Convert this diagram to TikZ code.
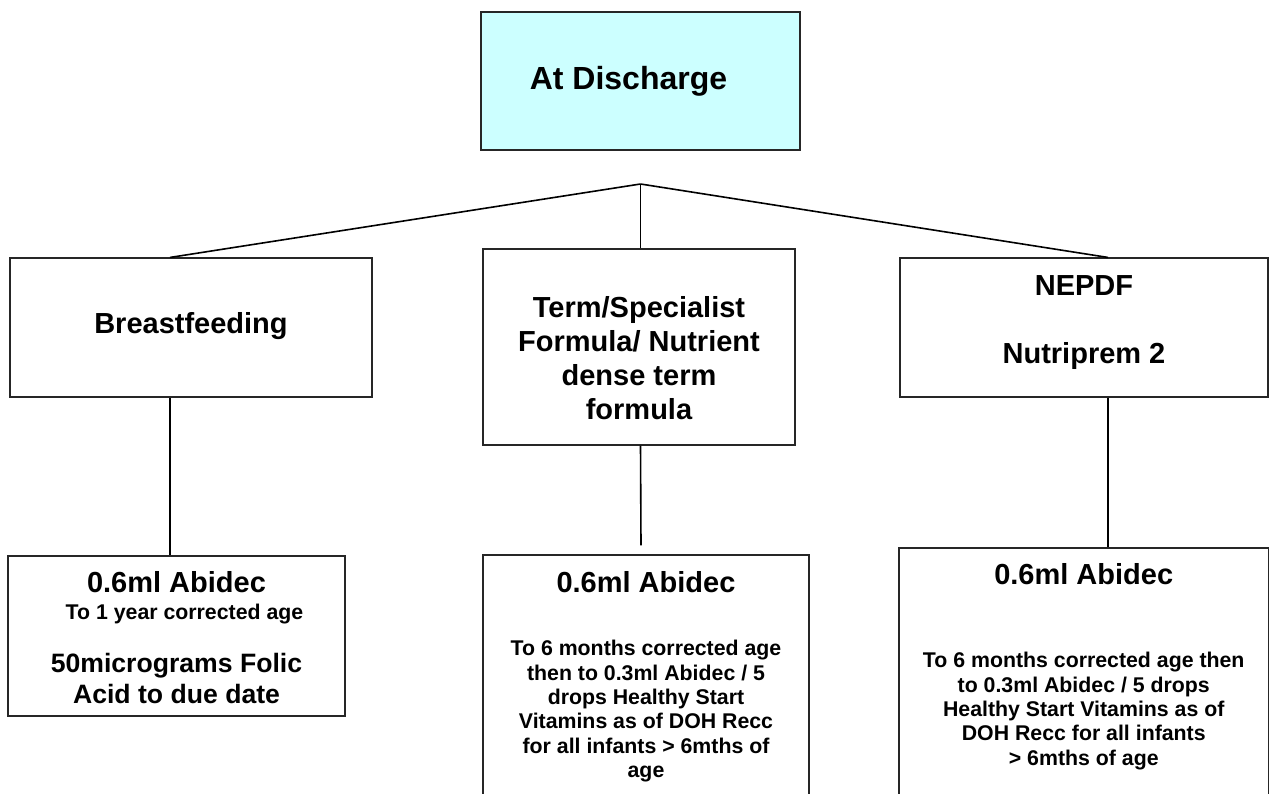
\documentclass[tikz,border=0pt]{standalone}
\usepackage{fontspec}
\setmainfont{Liberation Sans}
\usetikzlibrary{positioning}
\definecolor{dischcyan}{RGB}{204,255,255}
\tikzset{box/.style={rectangle,draw=black!85,line width=1.1pt,inner sep=0pt},
            txt/.style={inner sep=0pt,anchor=north,align=center},
            head/.style={txt,font=\bfseries\fontsize{29}{34}\selectfont},
            note/.style={txt,font=\bfseries\fontsize{21.3}{24.4}\selectfont},
            link/.style={draw,line width=1.6pt},
            }

\begin{document}
\begin{tikzpicture}[x=1pt,y=-1pt]
    \useasboundingbox (0,0) rectangle (1269,794);

    % boxes
    \node[box,fill=dischcyan,minimum width=319pt,minimum height=138pt] (disch) at (640.5,81) {};
    \node[box,minimum width=362pt,minimum height=139pt] (bfeed) at (191,327.5) {};
    \node[box,minimum width=312pt,minimum height=196pt] (formula) at (639,347) {};
    \node[box,minimum width=368pt,minimum height=139pt] (nepdf) at (1084,327.5) {};
    \node[box,minimum width=337pt,minimum height=160pt] (bfdose) at (176.5,636) {};
    \node[box,minimum width=326pt,minimum height=265pt] (formdose) at (646,687.5) {};
    \node[box,minimum width=369.5pt,minimum height=272pt] (nepdose) at (1083.75,684) {};

    % texts
    \node[txt,font=\bfseries\fontsize{32}{38}\selectfont,below=55pt of disch.north,xshift=-12pt] (dischtxt) {At Discharge};
    \node[head,below=55pt of bfeed.north] (bfeedtxt) {Breastfeeding};
    \node[head,below=48pt of formula.north] (formtxt) {Term/Specialist\\Formula/ Nutrient\\dense term\\formula};
    \node[head,below=18pt of nepdf.north] (neptxt) {NEPDF\\[34pt]Nutriprem 2};

    \node[head,below=16pt of bfdose.north] (bfdoseA) {0.6ml Abidec};
    \node[note,below=48.7pt of bfdose.north,xshift=8pt] (bfdoseB) {To 1 year corrected age};
    \node[txt,font=\bfseries\fontsize{26.6}{31}\selectfont,below=97.8pt of bfdose.north] (bfdoseC) {50micrograms Folic\\Acid to due date};

    \node[head,below=17pt of formdose.north] (formdoseA) {0.6ml Abidec};
    \node[note,below=85.7pt of formdose.north] (formdoseB) {To 6 months corrected age\\then to 0.3ml Abidec / 5\\drops Healthy Start\\Vitamins as of DOH Recc\\for all infants > 6mths of\\age};

    \node[head,below=16pt of nepdose.north] (nepdoseA) {0.6ml Abidec};
    \node[note,below=104.7pt of nepdose.north] (nepdoseB) {To 6 months corrected age then\\to 0.3ml Abidec / 5 drops\\Healthy Start Vitamins as of\\DOH Recc for all infants\\> 6mths of age};

    % connectors
    \coordinate (apex) at (640.5,184);
    \path[link]
    (apex) edge ([xshift=-21pt]bfeed.north)
    (apex) edge ([xshift=1.5pt]formula.north)
    (apex) edge ([xshift=24pt]nepdf.north)
    ([xshift=-21pt]bfeed.south) edge ([xshift=-6.5pt]bfdose.north)
    ([xshift=1.5pt]formula.south) edge ([xshift=-5pt,yshift=9pt]formdose.north)
    ([xshift=24pt]nepdf.south) edge ([xshift=24.25pt]nepdose.north);

\end{tikzpicture}
\end{document}
